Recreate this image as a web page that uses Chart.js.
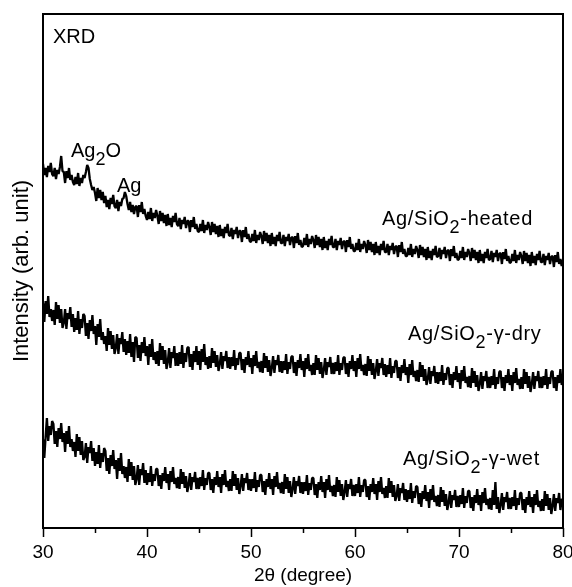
<!DOCTYPE html>
<html>
<head>
<meta charset="utf-8">
<script src="https://cdn.jsdelivr.net/npm/chart.js@4.4.1/dist/chart.umd.min.js"></script>
<style>
  html, body { margin: 0; padding: 0; background: #fff; }
  canvas { display: block; }
</style>
</head>
<body>
<canvas id="xrdChart" width="572" height="587"></canvas>
<script>
// 2theta sampling grid: 30..80 deg, 8 points per degree
const thetaStart = 30;
const thetaStep = 0.125;

// intensities (arb. unit, curves stacked), one degree per group of 8
const heated = [
  364, 353, 360, 351, 362, 356, 365, 354,   352, 360, 349, 358, 354, 361, 372, 357,
  356, 345, 357, 350, 360, 348, 353, 346,   343, 351, 344, 355, 342, 350, 345, 353,
  350, 356, 363, 360, 349, 343, 338, 341,   335, 327, 340, 330, 338, 328, 336, 325,
  332, 321, 328, 319, 330, 324, 333, 322,   320, 328, 317, 326, 322, 329, 330, 336,
  332, 324, 318, 326, 316, 323, 314, 321,   322, 311, 323, 316, 326, 314, 319, 312,
  308, 316, 309, 320, 307, 315, 310, 318,   312, 304, 317, 307, 315, 305, 313, 302,
  314, 303, 310, 301, 312, 306, 315, 304,   302, 310, 299, 308, 304, 311, 300, 307,
  307, 296, 308, 301, 311, 299, 304, 297,   296, 304, 297, 308, 295, 303, 298, 306,
  301, 293, 306, 296, 304, 294, 302, 291,   303, 292, 299, 290, 301, 295, 304, 293,
  292, 300, 289, 298, 294, 301, 290, 297,   297, 286, 298, 291, 301, 289, 294, 287,
  286, 294, 287, 298, 285, 293, 288, 296,   292, 284, 297, 287, 295, 285, 293, 282,
  295, 284, 291, 282, 293, 287, 296, 285,   285, 293, 282, 291, 287, 294, 283, 290,
  291, 280, 292, 285, 295, 283, 288, 281,   282, 290, 283, 294, 281, 289, 284, 292,
  288, 280, 293, 283, 291, 281, 289, 278,   291, 280, 287, 278, 289, 283, 292, 281,
  281, 289, 278, 287, 283, 290, 279, 286,   287, 276, 288, 281, 291, 279, 284, 277,
  277, 285, 278, 289, 276, 284, 279, 287,   283, 275, 288, 278, 286, 276, 284, 273,
  286, 275, 282, 273, 284, 278, 287, 276,   276, 284, 273, 282, 278, 285, 274, 281,
  282, 271, 283, 276, 286, 274, 279, 272,   272, 280, 273, 284, 271, 279, 274, 282,
  278, 270, 283, 273, 281, 271, 279, 268,   281, 270, 277, 268, 279, 273, 282, 271,
  272, 280, 269, 278, 274, 281, 270, 277,   278, 267, 279, 272, 282, 270, 275, 268,
  269, 277, 270, 281, 268, 276, 271, 279,   275, 267, 280, 270, 278, 268, 276, 265,
  278, 267, 274, 265, 276, 270, 279, 268,   269, 277, 266, 275, 271, 278, 267, 274,
  275, 264, 276, 269, 279, 267, 272, 265,   266, 274, 267, 278, 265, 273, 268, 276,
  272, 264, 277, 267, 275, 265, 273, 262,   276, 265, 272, 263, 274, 268, 277, 266,
  266, 274, 263, 272, 268, 275, 264, 271,   272, 261, 273, 266, 276, 264, 269, 262,
  268
];
const gammaDry = [
  225, 206, 227, 214, 232, 211, 219, 207,   218, 203, 226, 209, 223, 205, 219, 200,
  205, 219, 199, 215, 209, 221, 201, 214,   196, 210, 198, 217, 194, 209, 200, 214,
  212, 192, 205, 189, 208, 197, 213, 194,   202, 183, 204, 191, 209, 188, 196, 184,
  192, 177, 200, 183, 197, 179, 193, 174,   180, 194, 174, 190, 184, 196, 176, 189,
  173, 187, 175, 194, 171, 186, 166, 191,   190, 170, 183, 167, 186, 175, 191, 172,
  182, 163, 184, 171, 189, 168, 176, 164,   177, 162, 185, 168, 182, 164, 178, 159,
  166, 180, 160, 176, 170, 182, 162, 175,   162, 176, 164, 183, 160, 175, 166, 180,
  181, 161, 174, 158, 177, 166, 182, 163,   177, 158, 179, 166, 184, 163, 171, 159,
  172, 160, 180, 165, 177, 161, 173, 157,   164, 176, 159, 172, 167, 177, 160, 171,
  159, 171, 162, 178, 158, 170, 163, 175,   175, 158, 169, 155, 171, 163, 177, 161,
  170, 154, 173, 162, 177, 160, 166, 156,   167, 155, 175, 160, 172, 156, 168, 152,
  160, 172, 155, 168, 163, 173, 156, 167,   155, 167, 158, 174, 154, 166, 159, 171,
  172, 155, 166, 152, 168, 160, 174, 158,   167, 151, 170, 159, 174, 157, 163, 153,
  165, 153, 173, 158, 170, 154, 166, 150,   158, 170, 153, 166, 161, 171, 154, 165,
  154, 166, 157, 173, 153, 165, 158, 170,   171, 154, 165, 151, 167, 159, 173, 157,
  167, 151, 170, 159, 174, 157, 163, 153,   164, 152, 172, 157, 169, 153, 165, 149,
  157, 169, 152, 165, 160, 170, 153, 164,   151, 163, 154, 170, 150, 162, 155, 167,
  167, 150, 161, 147, 163, 155, 169, 153,   161, 145, 164, 153, 168, 151, 157, 147,
  158, 146, 166, 151, 163, 147, 159, 143,   149, 161, 144, 157, 152, 162, 145, 156,
  144, 156, 147, 163, 143, 155, 148, 160,   160, 143, 154, 140, 156, 148, 162, 146,
  155, 139, 158, 147, 162, 145, 151, 141,   152, 140, 160, 145, 157, 141, 153, 137,
  144, 156, 139, 152, 147, 157, 140, 151,   140, 152, 143, 159, 139, 151, 144, 156,
  157, 140, 151, 137, 153, 145, 159, 143,   153, 137, 156, 145, 160, 143, 149, 139,
  151, 139, 159, 144, 156, 140, 152, 136,   144, 156, 139, 152, 147, 157, 140, 151,
  140, 152, 143, 159, 139, 151, 144, 156,   157, 140, 151, 137, 153, 145, 159, 143,
  147
];
const gammaWet = [
  89, 70, 91, 110, 87, 102, 93, 107,   104, 84, 97, 81, 100, 89, 105, 86,
  95, 76, 97, 84, 102, 81, 89, 77,   86, 71, 94, 77, 91, 73, 87, 68,
  71, 85, 65, 81, 75, 87, 67, 80,   62, 76, 64, 83, 60, 75, 66, 80,
  77, 57, 70, 54, 73, 62, 78, 59,   68, 49, 70, 57, 75, 54, 62, 50,
  61, 46, 69, 52, 66, 48, 62, 43,   49, 63, 43, 59, 53, 65, 45, 58,
  43, 55, 46, 62, 42, 54, 47, 59,   59, 42, 53, 39, 55, 47, 61, 45,
  54, 38, 57, 46, 61, 44, 50, 40,   51, 39, 59, 44, 56, 40, 52, 36,
  43, 55, 38, 51, 46, 56, 39, 50,   39, 51, 42, 58, 38, 50, 43, 55,
  55, 38, 49, 35, 51, 43, 57, 41,   51, 35, 54, 43, 58, 41, 47, 37,
  49, 37, 57, 42, 54, 38, 50, 34,   42, 54, 37, 50, 45, 55, 38, 49,
  37, 49, 40, 56, 36, 48, 41, 53,   53, 36, 47, 33, 49, 41, 55, 39,
  49, 33, 52, 41, 56, 39, 45, 35,   46, 34, 54, 39, 51, 35, 47, 31,
  39, 51, 34, 47, 42, 52, 35, 46,   34, 46, 37, 53, 33, 45, 38, 50,
  50, 33, 44, 30, 46, 38, 52, 36,   46, 30, 49, 38, 53, 36, 42, 32,
  43, 31, 51, 36, 48, 32, 44, 28,   36, 48, 31, 44, 39, 49, 32, 43,
  32, 44, 35, 51, 31, 43, 36, 48,   48, 31, 42, 28, 44, 36, 50, 34,
  44, 28, 47, 36, 51, 34, 40, 30,   42, 30, 50, 35, 47, 31, 43, 27,
  32, 44, 27, 40, 35, 45, 28, 39,   26, 38, 29, 45, 25, 37, 30, 42,
  41, 24, 35, 21, 37, 29, 43, 27,   36, 20, 39, 28, 43, 26, 32, 22,
  33, 21, 41, 26, 38, 22, 34, 18,   25, 37, 20, 33, 28, 38, 21, 32,
  21, 33, 24, 40, 20, 32, 25, 37,   37, 20, 31, 17, 33, 25, 39, 23,
  33, 17, 36, 25, 40, 23, 29, 19,   30, 18, 38, 23, 46, 19, 31, 15,
  23, 35, 18, 31, 26, 36, 19, 30,   19, 31, 22, 38, 18, 30, 23, 35,
  35, 18, 29, 15, 31, 23, 37, 21,   31, 15, 34, 23, 38, 21, 27, 17,
  29, 17, 37, 22, 34, 18, 30, 14,   22, 34, 17, 30, 25, 35, 18, 29,
  27
];

const xTickValues = [30, 35, 40, 45, 50, 55, 60, 65, 70, 75, 80];
const xTickLabels = [30, 40, 50, 60, 70, 80];

// text labels: left x, baseline y, parts = [text, isSubscript]
const notes = [
  { x: 53,  y: 43,  parts: [['XRD', false]] },
  { x: 71,  y: 157, parts: [['Ag', false], ['2', true], ['O', false]] },
  { x: 117, y: 192, parts: [['Ag', false]] },
  { x: 382, y: 225, parts: [['Ag/SiO', false], ['2', true], ['-heated', false]], wide: true },
  { x: 408, y: 340, parts: [['Ag/SiO', false], ['2', true], ['-\u03b3-dry', false]], wide: true },
  { x: 403, y: 465, parts: [['Ag/SiO', false], ['2', true], ['-\u03b3-wet', false]], wide: true }
];

const FONT = '"Liberation Sans", Arial, Helvetica, sans-serif';
Chart.defaults.font.family = FONT;
Chart.defaults.color = '#000';

const toPoints = arr => arr.map((y, i) => ({ x: thetaStart + i * thetaStep, y }));
const lineSet = (label, arr) => ({
  label, data: toPoints(arr),
  borderColor: '#000', borderWidth: 2.3, borderJoinStyle: 'bevel',
  pointRadius: 0, tension: 0, fill: false
});

const framePlugin = {
  id: 'frame',
  afterDraw(chart) {
    const { ctx, chartArea: a, scales: { x } } = chart;
    ctx.save();
    ctx.strokeStyle = '#000';
    ctx.lineWidth = 2;
    ctx.strokeRect(a.left, a.top, a.right - a.left, a.bottom - a.top);
    // tick marks below the axis, long for labelled ones
    ctx.lineWidth = 1.5;
    xTickValues.forEach(v => {
      const px = Math.round(x.getPixelForValue(v)) + 0.5;
      const len = xTickLabels.includes(v) ? 9 : 5;
      ctx.beginPath();
      ctx.moveTo(px, a.bottom);
      ctx.lineTo(px, a.bottom + len);
      ctx.stroke();
    });
    // annotations
    ctx.fillStyle = '#000';
    ctx.textBaseline = 'alphabetic';
    ctx.textAlign = 'left';
    notes.forEach(n => {
      let cx = n.x;
      ctx.letterSpacing = n.wide ? '0.7px' : '0px';
      n.parts.forEach(([t, sub]) => {
        ctx.font = (sub ? '18px ' : '20px ') + FONT;
        ctx.fillText(t, cx, n.y + (sub ? 8 : 0));
        cx += ctx.measureText(t).width;
      });
    });
    ctx.restore();
  }
};

new Chart(document.getElementById('xrdChart'), {
  type: 'line',
  data: {
    datasets: [
      lineSet('Ag/SiO2-heated', heated),
      lineSet('Ag/SiO2-\u03b3-dry', gammaDry),
      lineSet('Ag/SiO2-\u03b3-wet', gammaWet)
    ]
  },
  options: {
    responsive: false,
    animation: false,
    layout: { padding: { top: 14, right: 9, left: 0, bottom: 0 } },
    plugins: { legend: { display: false }, tooltip: { enabled: false } },
    scales: {
      x: {
        type: 'linear', min: 30, max: 80,
        afterBuildTicks: s => { s.ticks = xTickValues.map(v => ({ value: v })); },
        afterFit: s => { s.height = 59; s.paddingLeft = 0; s.paddingRight = 0; },
        ticks: {
          autoSkip: false, maxRotation: 0, padding: 13,
          font: { size: 19 }, color: '#000',
          callback: v => xTickLabels.includes(v) ? String(v) : ''
        },
        grid: { display: false, drawTicks: false },
        border: { display: false },
        title: { display: true, text: '2\u03b8 (degree)', font: { size: 19 }, color: '#000', padding: { top: 0, bottom: 0 } }
      },
      y: {
        min: 0, max: 514,
        afterFit: s => { s.width = 43; },
        ticks: { display: false },
        grid: { display: false, drawTicks: false },
        border: { display: false },
        title: { display: true, text: 'Intensity (arb. unit)', font: { size: 22 }, color: '#000', padding: { top: 9, bottom: 0 } }
      }
    }
  },
  plugins: [framePlugin]
});
</script>
</body>
</html>
